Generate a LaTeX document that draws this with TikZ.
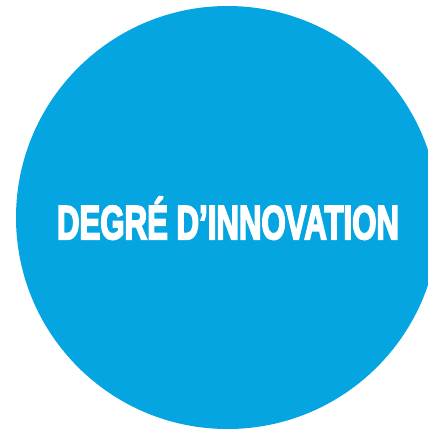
\documentclass[tikz,border=0pt]{standalone}
\usepackage{fontspec}
\setmainfont{Liberation Sans}
\newfontfamily\titlefont[FakeBold=4.5]{Liberation Sans}
\usepackage{graphicx}
\definecolor{discblue}{RGB}{4,165,224}
\tikzstyle{bluedisc}=[
    circle,
    fill=discblue,
    inner sep=0pt,
    minimum size=423pt,
]
\tikzstyle{disctitle}=[
    text=white,
    inner sep=0pt,
    anchor=base,
    font=\titlefont\bfseries\fontsize{47.5pt}{50pt}\selectfont,
]

\begin{document}
\begin{tikzpicture}[x=1pt, y=-1pt]
        \useasboundingbox (0,0) rectangle (428,431);
        \clip (0,0) rectangle (428,431);
        \node[bluedisc] (disc) at (227.5,217.5) {};
        \node[disctitle] (title) at (228,239) {\resizebox{342pt}{\height}{DEGRÉ D’INNOVATION}};
    \end{tikzpicture}
\end{document}
